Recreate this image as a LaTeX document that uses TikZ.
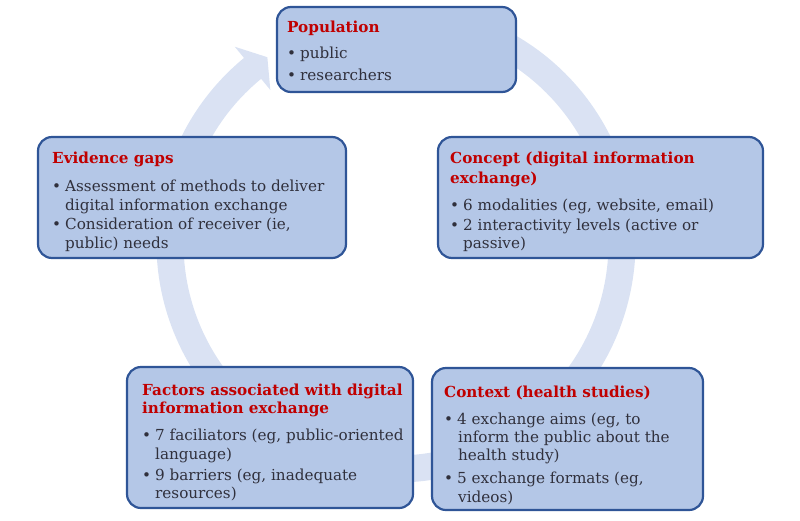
\documentclass[tikz,border=0pt]{standalone}
\usepackage{fontspec}
\setmainfont{DejaVu Serif}
\usetikzlibrary{calc}
\definecolor{ringblue}{HTML}{DAE2F3}
\definecolor{boxfill}{HTML}{B4C7E7}
\definecolor{boxline}{HTML}{2F5597}
\definecolor{headred}{HTML}{C00000}
\definecolor{bodygray}{HTML}{30303C}
\tikzset{
  card/.style={draw=boxline, fill=boxfill, line width=2.2pt, rounded corners=14pt, inner sep=0pt},
  head/.style={anchor=base west, inner sep=0pt, text=headred, font=\fontsize{15.2pt}{18pt}\selectfont\bfseries},
  body/.style={anchor=base west, inner sep=0pt, text=bodygray, font=\fontsize{15.2pt}{18pt}\selectfont},
}
% bullet followed by the hanging indent of the item text
\newcommand\itemdot{\makebox[13pt][l]{•}}

\begin{document}
\begin{tikzpicture}[x=1pt,y=-1pt]
\useasboundingbox (0,0) rectangle (800,520);

% circular arrow running clockwise behind the boxes
\coordinate (C) at (396,243);
\fill[ringblue] ($(C)+(-75:239.5)$) arc[start angle=-75,end angle=230.6,radius=239.5]
  -- ($(C)+(230.6:254)$) -- ($(C)+(235.3:226)$) -- ($(C)+(230.6:198)$)
  -- ($(C)+(230.6:212.5)$) arc[start angle=230.6,end angle=-75,radius=212.5] -- cycle;

% boxes
\node[card, minimum width=239pt, minimum height=85pt]  (pop) at (396.5,49.5) {};
\node[card, minimum width=308pt, minimum height=121pt] (gap) at (192,197.5) {};
\node[card, minimum width=325pt, minimum height=121pt] (con) at (600.5,197.5) {};
\node[card, minimum width=286pt, minimum height=141pt] (fac) at (270,437.5) {};
\node[card, minimum width=271pt, minimum height=142pt] (ctx) at (567.5,439) {};

% Population
\node[head] (pop-t) at (287,32) {Population};
\node[body] (pop-1) at (287,58) {\itemdot public};
\node[body] (pop-2) at (287,80) {\itemdot researchers};

% Evidence gaps
\node[head] (gap-t) at (52,163) {Evidence gaps};
\node[body] (gap-1) at (52,191) {\itemdot Assessment of methods to deliver};
\node[body] (gap-1b) at (65,210) {digital information exchange};
\node[body] (gap-2) at (52,229) {\itemdot Consideration of receiver (ie,};
\node[body] (gap-2b) at (65,248) {public) needs};

% Concept
\node[head] (con-t) at (450,163) {Concept (digital information};
\node[head] (con-tb) at (450,183) {exchange)};
\node[body] (con-1) at (450,210) {\itemdot 6 modalities (eg, website, email)};
\node[body] (con-2) at (450,230) {\itemdot 2 interactivity levels (active or};
\node[body] (con-2b) at (463,248) {passive)};

% Factors
\node[head] (fac-t) at (142,395) {Factors associated with digital};
\node[head] (fac-tb) at (142,413) {information exchange};
\node[body] (fac-1) at (142,440) {\itemdot 7 faciliators (eg, public-oriented};
\node[body] (fac-1b) at (155,459) {language)};
\node[body] (fac-2) at (142,480) {\itemdot 9 barriers (eg, inadequate};
\node[body] (fac-2b) at (155,498) {resources)};

% Context
\node[head] (ctx-t) at (444,397) {Context (health studies)};
\node[body] (ctx-1) at (444,424) {\itemdot 4 exchange aims (eg, to};
\node[body] (ctx-1b) at (458,442) {inform the public about the};
\node[body] (ctx-1c) at (458,460) {health study)};
\node[body] (ctx-2) at (444,483) {\itemdot 5 exchange formats (eg,};
\node[body] (ctx-2b) at (458,502) {videos)};
\end{tikzpicture}
\end{document}
